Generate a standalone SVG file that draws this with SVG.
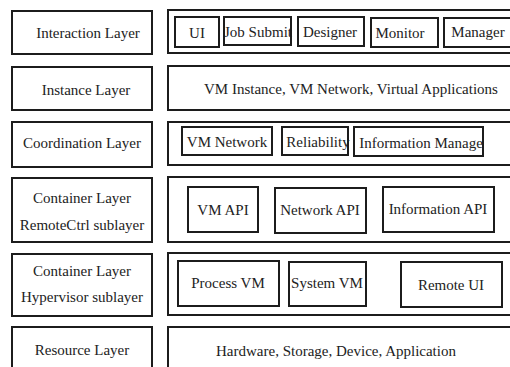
<svg xmlns="http://www.w3.org/2000/svg" width="510" height="367" viewBox="0 0 510 367">
<style>
rect{fill:none;stroke:#1c1c1c;stroke-width:2}
text{font-family:"Liberation Serif","DejaVu Serif","Times New Roman",serif;font-size:15px;fill:#222;text-anchor:middle}
</style>
<rect x="0" y="0" width="510" height="367" style="fill:#fff;stroke:none"/>
<g id="interaction">
<rect x="12" y="11" width="140" height="43"/><text x="88" y="38">Interaction Layer</text>
<rect x="168" y="10" width="345" height="43"/>
<g id="ui"><rect x="175" y="17" width="44" height="30"/><text x="197" y="38">UI</text></g>
<g id="jobsubmit"><text x="258" y="37">Job Submit</text><rect x="224" y="17" width="67" height="28"/></g>
<g id="designer"><rect x="298" y="17" width="66" height="29"/><text x="330" y="37">Designer</text></g>
<g id="monitor"><rect x="371" y="18" width="67" height="29"/><text x="400" y="38">Monitor</text></g>
<g id="manager"><rect x="444" y="18" width="67" height="29"/><text x="478" y="37">Manager</text></g>
</g>
<g id="instance">
<rect x="12" y="67" width="140" height="43"/><text x="86" y="95">Instance Layer</text>
<rect x="168" y="66" width="345" height="44"/><text x="351" y="94">VM Instance, VM Network, Virtual Applications</text>
</g>
<g id="coordination">
<rect x="12" y="122" width="140" height="45"/><text x="82" y="148">Coordination Layer</text>
<rect x="168" y="122" width="345" height="43"/>
<g id="vmnetwork"><rect x="182" y="127" width="90" height="28"/><text x="227" y="147">VM Network</text></g>
<g id="reliability"><rect x="282" y="127" width="66" height="28"/><text x="318" y="147">Reliability</text></g>
<g id="infomanage"><rect x="354" y="127" width="129" height="29"/><text x="421" y="148">Information Manage</text></g>
</g>
<g id="remotectrl">
<rect x="12" y="178" width="140" height="64"/><text x="82" y="203">Container Layer</text><text x="82" y="230">RemoteCtrl sublayer</text>
<rect x="168" y="177" width="345" height="65"/>
<g id="vmapi"><rect x="188" y="187" width="70" height="45"/><text x="223" y="215">VM API</text></g>
<g id="networkapi"><rect x="275" y="188" width="91" height="45"/><text x="320" y="215">Network API</text></g>
<g id="infoapi"><rect x="383" y="187" width="111" height="45"/><text x="438" y="214">Information API</text></g>
</g>
<g id="hypervisor">
<rect x="12" y="254" width="140" height="62"/><text x="82" y="276">Container Layer</text><text x="82" y="302">Hypervisor sublayer</text>
<rect x="168" y="253" width="345" height="62"/>
<g id="processvm"><rect x="178" y="261" width="101" height="45"/><text x="228" y="288">Process VM</text></g>
<g id="systemvm"><rect x="289" y="262" width="77" height="44"/><text x="327" y="288">System VM</text></g>
<g id="remoteui"><rect x="401" y="262" width="101" height="45"/><text x="451" y="290">Remote UI</text></g>
</g>
<g id="resource">
<rect x="12" y="327" width="140" height="50"/><text x="82" y="355">Resource Layer</text>
<rect x="168" y="327" width="345" height="50"/><text x="336" y="356">Hardware, Storage, Device, Application</text>
</g>
<g id="connectors"></g>
</svg>
